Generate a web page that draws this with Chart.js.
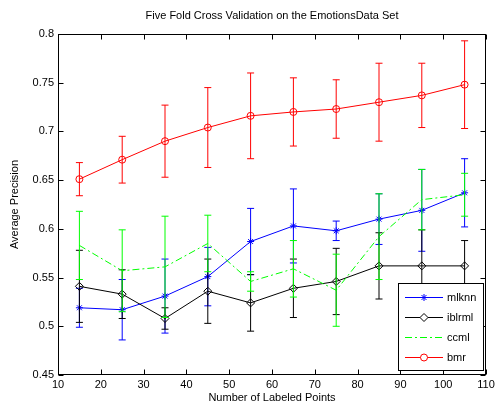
<!DOCTYPE html>
<html>
<head>
<meta charset="utf-8">
<script src="https://cdn.jsdelivr.net/npm/chart.js@4/dist/chart.umd.min.js"></script>
<style>
  body { margin: 0; background: #fff; }
  canvas { display: block; }
</style>
</head>
<body>
<canvas id="grafico" width="498" height="407"></canvas>
<script>
// numero de pontos rotulados
const pontos = [15, 25, 35, 45, 55, 65, 75, 85, 95, 105];

// media e desvio de cada metodo
const mlknnMedia = [0.519, 0.517, 0.531, 0.551, 0.587, 0.603, 0.598, 0.610, 0.619, 0.637];
const mlknnErro  = [0.020, 0.031, 0.038, 0.030, 0.034, 0.038, 0.010, 0.026, 0.042, 0.035];

const iblrmlMedia = [0.541, 0.533, 0.508, 0.536, 0.524, 0.539, 0.546, 0.562, 0.562, 0.562];
const iblrmlErro  = [0.037, 0.025, 0.011, 0.033, 0.029, 0.030, 0.034, 0.034, 0.037, 0.026];

const ccmlMedia = [0.583, 0.557, 0.561, 0.585, 0.546, 0.559, 0.537, 0.592, 0.630, 0.635];
const ccmlErro  = [0.035, 0.042, 0.052, 0.029, 0.010, 0.029, 0.037, 0.044, 0.031, 0.022];

const bmrMedia = [0.651, 0.671, 0.690, 0.704, 0.716, 0.720, 0.723, 0.730, 0.737, 0.748];
const bmrErro  = [0.017, 0.024, 0.037, 0.041, 0.044, 0.035, 0.030, 0.040, 0.033, 0.045];

const titulo = "Five Fold Cross Validation on the EmotionsData Set";
const tituloX = "Number of Labeled Points";
const tituloY = "Average Precision";

const fonte = '"Liberation Sans", Arial, sans-serif';

function serie(nome, medias, erros, cor, estilo, raio, ordem, tracejado) {
  return {
    label: nome,
    data: medias.map((v, i) => ({ x: pontos[i], y: v })),
    erros: erros,
    borderColor: cor,
    borderWidth: 1,
    borderDash: tracejado || [],
    pointStyle: estilo,
    pointRadius: raio,
    pointHoverRadius: raio,
    pointBorderColor: cor,
    pointBorderWidth: 1,
    pointBackgroundColor: "rgba(0,0,0,0)",
    backgroundColor: "rgba(0,0,0,0)",
    tension: 0,
    order: ordem
  };
}

// barras de erro desenhadas antes de cada serie
const barrasErro = {
  id: "barrasErro",
  beforeDatasetDraw(chart, args) {
    const ds = chart.data.datasets[args.index];
    const sx = chart.scales.x, sy = chart.scales.y;
    const ctx = chart.ctx;
    ctx.save();
    ctx.strokeStyle = ds.borderColor;
    ctx.lineWidth = 1;
    ctx.setLineDash([]);
    ds.data.forEach((p, i) => {
      const x = sx.getPixelForValue(p.x);
      const y1 = sy.getPixelForValue(p.y + ds.erros[i]);
      const y2 = sy.getPixelForValue(p.y - ds.erros[i]);
      ctx.beginPath();
      ctx.moveTo(x, y1); ctx.lineTo(x, y2);
      ctx.moveTo(x - 3.5, y1); ctx.lineTo(x + 3.5, y1);
      ctx.moveTo(x - 3.5, y2); ctx.lineTo(x + 3.5, y2);
      ctx.stroke();
    });
    ctx.restore();
  }
};

// moldura, marcas internas, titulos e legenda
const moldura = {
  id: "moldura",
  afterDraw(chart) {
    const { ctx, chartArea: a } = chart;
    const sx = chart.scales.x, sy = chart.scales.y;
    ctx.save();
    ctx.strokeStyle = "#000";
    ctx.lineWidth = 1;
    ctx.setLineDash([]);
    const L = Math.round(a.left) + 0.5, R = Math.round(a.right) - 0.5;
    const T = Math.round(a.top) + 0.5, B = Math.round(a.bottom) - 0.5;
    ctx.strokeRect(L, T, R - L, B - T);
    ctx.beginPath();
    sx.ticks.forEach(t => {
      const x = Math.round(sx.getPixelForValue(t.value)) + 0.5;
      ctx.moveTo(x, B); ctx.lineTo(x, B - 5);
      ctx.moveTo(x, T); ctx.lineTo(x, T + 5);
    });
    sy.ticks.forEach(t => {
      const y = Math.round(sy.getPixelForValue(t.value)) + 0.5;
      ctx.moveTo(L, y); ctx.lineTo(L + 5, y);
      ctx.moveTo(R, y); ctx.lineTo(R - 5, y);
    });
    ctx.stroke();

    ctx.fillStyle = "#000";
    ctx.font = "11px " + fonte;
    ctx.textAlign = "center";
    ctx.textBaseline = "middle";
    const cx = (a.left + a.right) / 2;
    ctx.fillText(titulo, cx, 16);
    ctx.fillText(tituloX, cx, 398);
    ctx.save();
    ctx.translate(15, (a.top + a.bottom) / 2);
    ctx.rotate(-Math.PI / 2);
    ctx.fillText(tituloY, 0, 0);
    ctx.restore();

    // legenda
    const lx = 398.5, ly = 283.5, lw = 85, lh = 87;
    ctx.fillStyle = "#fff";
    ctx.fillRect(lx, ly, lw, lh);
    ctx.strokeRect(lx, ly, lw, lh);
    ctx.textAlign = "left";
    chart.data.datasets.forEach((ds, i) => {
      const y = Math.round(ly + 13 + i * 20) + 0.5;
      ctx.save();
      ctx.strokeStyle = ds.borderColor;
      ctx.setLineDash(ds.borderDash);
      ctx.beginPath();
      ctx.moveTo(405, y); ctx.lineTo(443, y);
      ctx.stroke();
      ctx.setLineDash([]);
      if (ds.pointRadius > 0) {
        // marcador vazado, como no grafico
        ctx.fillStyle = "#fff";
        Chart.helpers.drawPoint(ctx, {
          pointStyle: ds.pointStyle, radius: ds.pointRadius, borderWidth: 1, rotation: 0
        }, 424, y);
      }
      ctx.restore();
      ctx.fillStyle = "#000";
      ctx.fillText(ds.label, 447, y);
    });
    ctx.restore();
  }
};

new Chart(document.getElementById("grafico"), {
  type: "line",
  data: {
    datasets: [
      serie("mlknn", mlknnMedia, mlknnErro, "#0000ff", "star", 3.5, 4),
      serie("iblrml", iblrmlMedia, iblrmlErro, "#000000", "rectRot", 4, 3),
      serie("ccml", ccmlMedia, ccmlErro, "#00ff00", "circle", 0, 2, [7, 3, 2, 3]),
      serie("bmr", bmrMedia, bmrErro, "#ff0000", "circle", 3.5, 1)
    ]
  },
  options: {
    responsive: false,
    animation: false,
    devicePixelRatio: 1,
    layout: { padding: { top: 34, right: 12, left: 0, bottom: 0 } },
    plugins: {
      legend: { display: false },
      title: { display: false },
      tooltip: { enabled: false }
    },
    scales: {
      x: {
        type: "linear",
        min: 10, max: 110,
        grid: { display: false, drawTicks: false },
        border: { display: false },
        ticks: { stepSize: 10, color: "#000", padding: 3, maxRotation: 0,
                 font: { family: fonte, size: 11 } },
        afterFit(s) { s.height = 32; }
      },
      y: {
        min: 0.45, max: 0.8,
        grid: { display: false, drawTicks: false },
        border: { display: false },
        ticks: { stepSize: 0.05, color: "#000", padding: 4,
                 font: { family: fonte, size: 11 },
                 callback: v => String(+v.toFixed(2)) },
        afterFit(s) { s.width = 58; }
      }
    }
  },
  plugins: [barrasErro, moldura]
});
</script>
</body>
</html>
